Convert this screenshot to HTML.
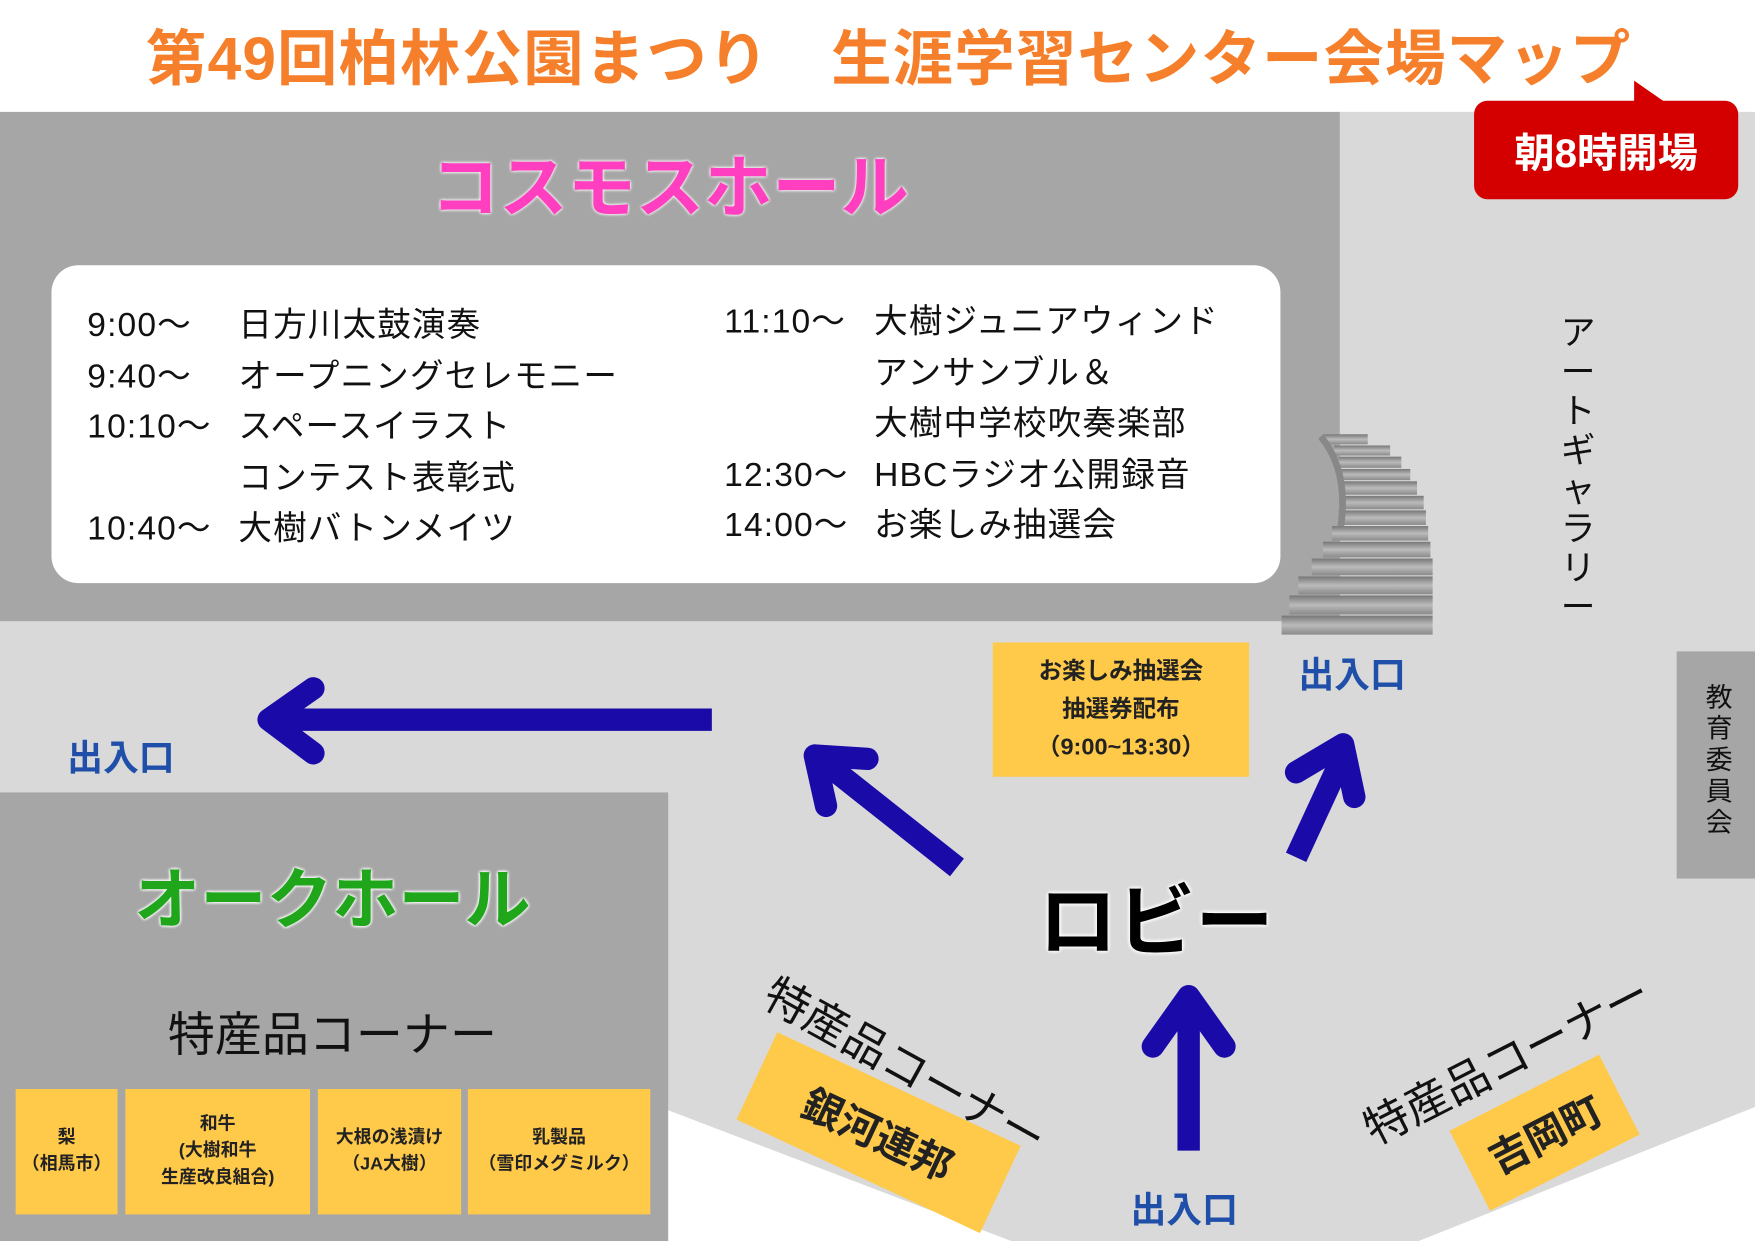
<!DOCTYPE html>
<html><head><meta charset="utf-8"><style>
html,body{margin:0;padding:0;width:1755px;height:1241px;overflow:hidden;background:#fff}
#w{position:absolute;left:0;top:0;width:1568px;height:1109px;transform:scale(1.11926);transform-origin:0 0;font-family:"Liberation Sans","Noto Sans CJK JP",sans-serif}
.a{position:absolute;white-space:nowrap}
.sch{font-size:30px;color:#111;letter-spacing:1px}
.yb{position:absolute;background:#ffc94a;display:flex;align-items:center;justify-content:center;text-align:center;font-weight:bold;color:#222}
.door{color:#1f4fa8;font-weight:bold;font-size:32px}
</style></head><body><div id="w">
<svg class="a" style="left:0;top:0" width="1568" height="1109">
<defs><linearGradient id="st" x1="0" y1="0" x2="0" y2="1"><stop offset="0" stop-color="#777"/><stop offset="0.5" stop-color="#bbb"/><stop offset="1" stop-color="#8a8a8a"/></linearGradient></defs>
<polygon points="0,100 1568,100 1568,989 1267,1109 904,1109 597,992 0,992" fill="#d9d9d9"/>
<rect x="0" y="100" width="1197" height="455" fill="#a6a6a6"/>
<rect x="0" y="708" width="597" height="401" fill="#a6a6a6"/>
<rect x="1498" y="582" width="70" height="203" fill="#a6a6a6"/>
<rect x="46" y="237" width="1098" height="284" rx="24" fill="#fff"/>
<g fill="url(#st)">
<rect x="1182" y="388" width="40" height="9"/><rect x="1192" y="398" width="50" height="9"/>
<rect x="1196" y="408" width="56" height="10"/><rect x="1198" y="419" width="62" height="10"/>
<rect x="1200" y="430" width="66" height="12"/><rect x="1200" y="443" width="72" height="12"/>
<rect x="1196" y="456" width="78" height="13"/><rect x="1190" y="470" width="86" height="13"/>
<rect x="1182" y="484" width="96" height="14"/><rect x="1172" y="499" width="108" height="15"/>
<rect x="1160" y="515" width="120" height="16"/><rect x="1152" y="532" width="128" height="17"/>
<rect x="1145" y="550" width="135" height="17"/>
</g>
<path d="M1180,390 Q1205,420 1198,470" stroke="#888" stroke-width="6" fill="none"/>
<g stroke="#1a0aa8" stroke-width="20" fill="none" stroke-linecap="round" stroke-linejoin="round">
<line x1="636" y1="643" x2="245" y2="643" stroke-linecap="butt"/>
<polyline points="280,615 240,643 280,673"/>
<line x1="855" y1="775" x2="735" y2="680" stroke-linecap="butt"/>
<polyline points="738,720 728,675 775,678"/>
<line x1="1158" y1="766" x2="1200" y2="675" stroke-linecap="butt"/>
<polyline points="1158,690 1200,665 1210,712"/>
<line x1="1062" y1="1028" x2="1062" y2="895" stroke-linecap="butt"/>
<polyline points="1030,935 1062,890 1094,935"/>
</g>
<polygon points="1460,72 1500,100 1460,100" fill="#d40000"/>
<rect x="1317" y="90" width="236" height="88" rx="12" fill="#d40000"/>
</svg>
<div class="a" style="left:0;width:1568px;top:8px;text-align:center;font-size:54px;font-weight:bold;color:#f57f2a;letter-spacing:1px;padding-left:20px;box-sizing:border-box">第49回柏林公園まつり　生涯学習センター会場マップ</div>
<div class="a" style="left:1317px;top:108px;width:236px;text-align:center;font-size:36px;font-weight:bold;color:#fff">朝8時開場</div>
<div class="a" style="left:385px;top:118px;font-size:61px;font-weight:bold;color:#ff3fbf;text-shadow:0 0 3px #fff,0 0 3px #fff">コスモスホール</div>
<div class="a" style="left:120px;top:756px;font-size:59px;font-weight:bold;color:#1fa61a;text-shadow:0 0 3px #fff,0 0 3px #fff,0 0 3px #fff">オークホール</div>
<div class="a sch" style="left:78px;top:268px;line-height:45.5px">9:00～<br>9:40～<br>10:10～<br><br>10:40～</div>
<div class="a sch" style="left:213px;top:268px;line-height:45.5px">日方川太鼓演奏<br>オープニングセレモニー<br>スペースイラスト<br>コンテスト表彰式<br>大樹バトンメイツ</div>
<div class="a sch" style="left:647px;top:265px;line-height:45.5px">11:10～<br><br><br>12:30～<br>14:00～</div>
<div class="a sch" style="left:781px;top:265px;line-height:45.5px">大樹ジュニアウィンド<br>アンサンブル＆<br>大樹中学校吹奏楽部<br>HBCラジオ公開録音<br>お楽しみ抽選会</div>
<div class="a" style="left:1392px;top:280px;width:36px;font-size:31px;line-height:35px;white-space:normal;text-align:center;color:#111">ア<br>ー<br>ト<br>ギ<br>ャ<br>ラ<br>リ<br>ー</div>
<div class="a" style="left:1520px;top:610px;width:32px;font-size:24px;line-height:28px;white-space:normal;text-align:center;color:#111">教<br>育<br>委<br>員<br>会</div>
<div class="yb" style="left:887px;top:574px;width:229px;height:120px;font-size:21px;line-height:34px">お楽しみ抽選会<br>抽選券配布<br>（9:00~13:30）</div>
<div class="a door" style="left:60px;top:652px">出入口</div>
<div class="a door" style="left:1160px;top:578px">出入口</div>
<div class="a door" style="left:1010px;top:1056px">出入口</div>
<div class="a" style="left:928px;top:768px;font-size:70px;font-weight:bold;color:#000;text-shadow:0 0 4px #fff,0 0 4px #fff,0 0 4px #fff">ロビー</div>
<div class="a" style="left:150px;top:891px;font-size:42px;color:#111">特産品コーナー</div>
<div class="yb" style="left:14px;top:973px;width:91px;height:112px;font-size:16px;line-height:24px">梨<br>（相馬市）</div>
<div class="yb" style="left:112px;top:973px;width:165px;height:112px;font-size:16px;line-height:24px">和牛<br>(大樹和牛<br>生産改良組合)</div>
<div class="yb" style="left:284px;top:973px;width:128px;height:112px;font-size:16px;line-height:24px">大根の浅漬け<br>（JA大樹）</div>
<div class="yb" style="left:418px;top:973px;width:163px;height:112px;font-size:16px;line-height:24px">乳製品<br>（雪印メグミルク）</div>
<div class="a" style="left:810px;top:950px;font-size:40px;color:#111;transform:translate(-50%,-50%) rotate(29deg)">特産品コーナー</div>
<div class="yb" style="left:785px;top:1012px;width:240px;height:86px;font-size:36px;transform:translate(-50%,-50%) rotate(25deg)">銀河連邦</div>
<div class="a" style="left:1345px;top:945px;font-size:40px;color:#111;transform:translate(-50%,-50%) rotate(-27deg)">特産品コーナー</div>
<div class="yb" style="left:1380px;top:1012px;width:150px;height:80px;font-size:36px;transform:translate(-50%,-50%) rotate(-27deg)">吉岡町</div>
</div></body></html>
